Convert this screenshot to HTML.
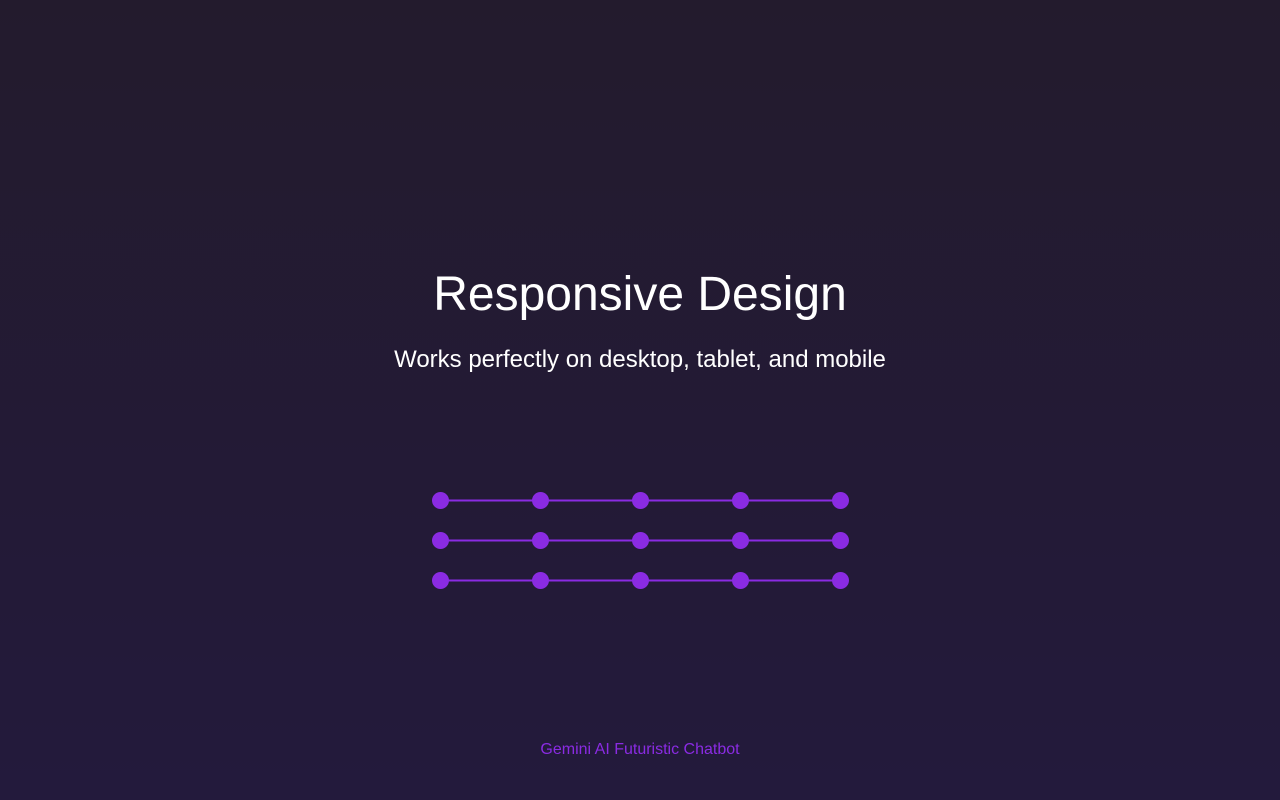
<!DOCTYPE html>
<html><head><meta charset="utf-8"><style>
html,body{margin:0;padding:0}
body{width:1280px;height:800px;background:linear-gradient(180deg,#231b2d 0%,#231a3c 100%);font-family:"Liberation Sans",Arial,sans-serif;position:relative;overflow:hidden}
.t{position:absolute;left:0;width:1280px;text-align:center;white-space:nowrap}
</style></head><body>
<div class="t" style="top:267px;font-size:48px;line-height:56px;color:#fff">Responsive Design</div>
<div class="t" style="top:345px;font-size:24px;line-height:30px;color:#fff">Works perfectly on desktop, tablet, and mobile</div>
<svg style="position:absolute;left:0;top:0" width="1280" height="800">
<g transform="translate(0.5,0.5)">
<g stroke="#8a2be2" stroke-width="2">
<line x1="440" y1="500" x2="840" y2="500"/><line x1="440" y1="540" x2="840" y2="540"/><line x1="440" y1="580" x2="840" y2="580"/>
</g>
<g fill="#8a2be2">
<circle cx="440" cy="500" r="8.5"/><circle cx="540" cy="500" r="8.5"/><circle cx="640" cy="500" r="8.5"/><circle cx="740" cy="500" r="8.5"/><circle cx="840" cy="500" r="8.5"/>
<circle cx="440" cy="540" r="8.5"/><circle cx="540" cy="540" r="8.5"/><circle cx="640" cy="540" r="8.5"/><circle cx="740" cy="540" r="8.5"/><circle cx="840" cy="540" r="8.5"/>
<circle cx="440" cy="580" r="8.5"/><circle cx="540" cy="580" r="8.5"/><circle cx="640" cy="580" r="8.5"/><circle cx="740" cy="580" r="8.5"/><circle cx="840" cy="580" r="8.5"/>
</g>
</g>
</svg>
<div class="t" style="top:741px;font-size:16px;line-height:18px;color:#8a2be2">Gemini AI Futuristic Chatbot</div>
</body></html>
